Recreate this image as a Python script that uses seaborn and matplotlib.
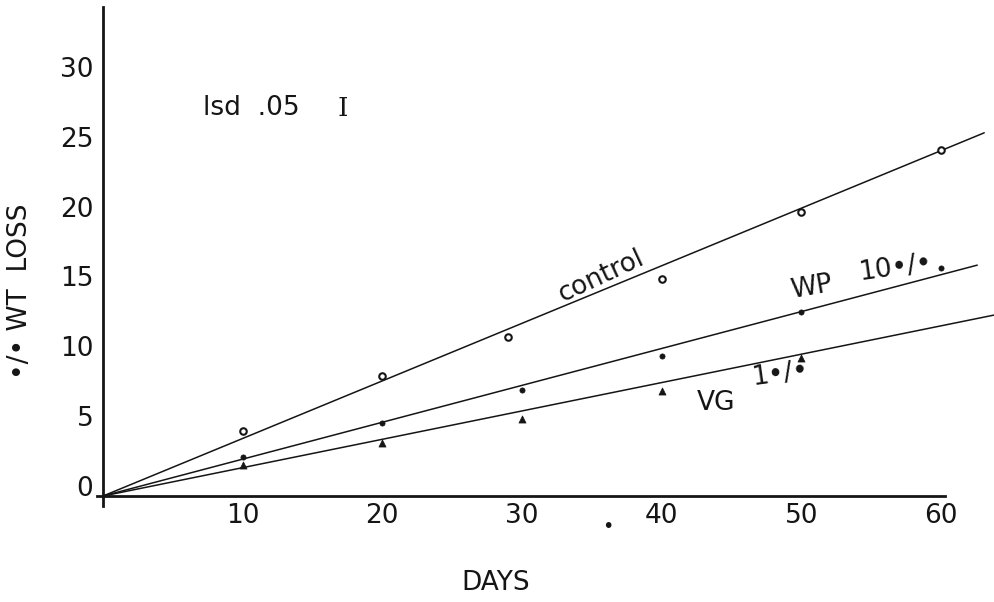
import numpy as np
import pandas as pd
import matplotlib
matplotlib.use("Agg")
import matplotlib.pyplot as plt
import matplotlib.transforms as mtransforms
import seaborn as sns

# ---- data ----
control_days = [10, 20, 29, 40, 50, 60]
control_loss = [4.65, 8.6, 11.4, 15.5, 20.3, 24.8]
wp_days = [10, 20, 30, 40, 50, 60]
wp_loss = [2.8, 5.2, 7.6, 10.0, 13.2, 16.3]
vg_days = [10, 20, 30, 40, 50]
vg_loss = [2.2, 3.8, 5.5, 7.5, 9.9]

# fitted regression lines through the origin (slope, last day drawn)
fit_slopes = {"control": 0.412, "wp": 0.264, "vg": 0.203}
fit_end_day = {"control": 63.1, "wp": 62.6, "vg": 63.8}

x_ticks = [10, 20, 30, 40, 50, 60]
x_tick_labels = ["10", "20", "30", "40", "50", "60"]
y_ticks = [0, 5, 10, 15, 20, 25, 30]
y_tick_labels = ["0", "5", "10", "15", "20", "25", "30"]

INK = "#151515"

sns.set_style("white")
plt.rcParams['font.family'] = ['DejaVu Sans', 'Liberation Sans', 'Noto Sans']

fig = plt.figure(figsize=(9.94, 6.02), dpi=100)
ax = fig.add_axes([0.0973, 0.1598, 0.9027, 0.8285])

# fitted lines
for key in ["control", "wp", "vg"]:
    xe = fit_end_day[key]
    line_df = pd.DataFrame({"day": [0.0, xe], "loss": [0.0, fit_slopes[key] * xe]})
    sns.lineplot(data=line_df, x="day", y="loss", color=INK, linewidth=1.1,
                 ax=ax, legend=False)

# points
sns.scatterplot(x=control_days, y=control_loss, marker="o", s=22,
                facecolor="white", edgecolor=INK, linewidth=1.5, ax=ax, zorder=3)
sns.scatterplot(x=wp_days, y=wp_loss, marker="o", s=14,
                color=INK, edgecolor=INK, linewidth=0.5, ax=ax, zorder=3)
sns.scatterplot(x=vg_days, y=vg_loss, marker="^", s=26,
                color=INK, edgecolor=INK, linewidth=0.5, ax=ax, zorder=3)

ax.set_xlim(-0.45, 63.8)
ax.set_ylim(-0.7, 35.0)
sns.despine(ax=ax)
ax.spines['left'].set_position(('data', 0))
ax.spines['bottom'].set_position(('data', 0))
ax.spines['left'].set_bounds(-0.7, 35.0)
ax.spines['bottom'].set_bounds(-0.45, 60.3)
for s in ['left', 'bottom']:
    ax.spines[s].set_linewidth(2.0)
    ax.spines[s].set_color(INK)

ax.set_xticks(x_ticks)
ax.set_xticklabels(x_tick_labels)
ax.set_yticks(y_ticks)
ax.set_yticklabels(y_tick_labels)
ax.tick_params(axis='x', direction='in', length=5, width=1.5, pad=5,
               labelsize=19, colors=INK)
ax.tick_params(axis='y', direction='in', length=5, width=1.5, pad=7,
               labelsize=19, colors=INK)

offset = mtransforms.ScaledTranslation(0, 0.10, fig.dpi_scale_trans)
for lab in ax.get_yticklabels():
    lab.set_transform(lab.get_transform() + offset)

ax.set_xlabel("DAYS", fontsize=19, color=INK)
ax.xaxis.set_label_coords(0.4449, -0.1548)
ax.xaxis.label.set_verticalalignment('center')
ax.set_ylabel("•/• WT  LOSS", fontsize=19, color=INK)
ax.yaxis.set_label_coords(-0.0855, 0.4307)
ax.yaxis.label.set_verticalalignment('center')

# annotations
ax.text(7.16, 27.77, "lsd  .05", fontsize=19, color=INK, ha='left', va='center')
ax.text(17.2, 27.77, "I", fontsize=19, color=INK, ha='center', va='center',
        family=['DejaVu Serif'])
ax.text(35.7, 15.75, "control", fontsize=19, color=INK, ha='center', va='center',
        rotation=25, rotation_mode='anchor')
ax.text(50.75, 14.96, "WP", fontsize=19, color=INK, ha='center', va='center',
        rotation=10, rotation_mode='anchor')
ax.text(56.7, 16.3, "10•/•", fontsize=19, color=INK, ha='center', va='center',
        rotation=8, rotation_mode='anchor')
ax.text(43.9, 6.66, "VG", fontsize=19, color=INK, ha='center', va='center')
ax.text(48.5, 8.73, "1•/•", fontsize=19, color=INK, ha='center', va='center',
        rotation=8, rotation_mode='anchor')
ax.text(36.15, -2.2, "•", fontsize=14, color=INK, ha='center', va='center')

fig.savefig("out.png", dpi=100)
